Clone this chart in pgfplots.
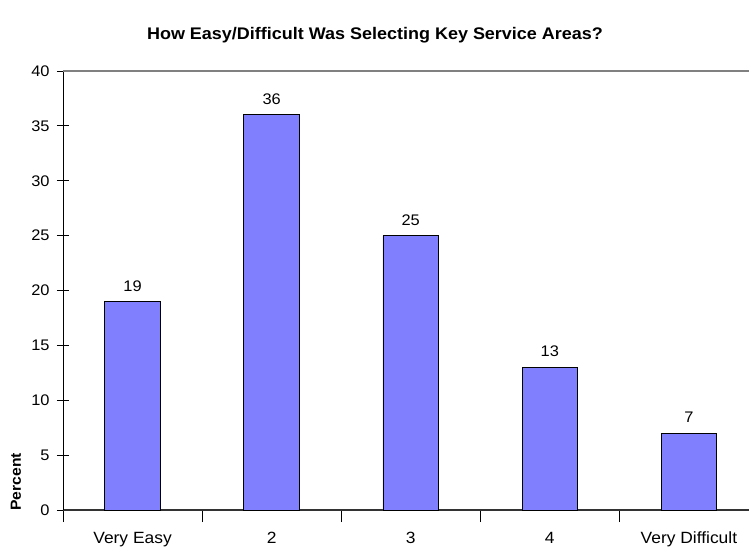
\documentclass[border=0pt]{standalone}
\usepackage{pgfplots}
\pgfplotsset{compat=1.18}
\usepackage{fontspec}
\setmainfont{Liberation Sans}[FakeStretch=1.07]
\definecolor{barblue}{RGB}{128,128,255}
\begin{document}
\begin{tikzpicture}[x=1pt,y=1pt]
\begin{axis}[
  at={(0,0)}, anchor=south west,
  scale only axis,
  width=514.5pt, height=329.25pt,
  xmin=-0.5, xmax=4.432,
  ymin=0, ymax=40,
  ytick={0,5,...,40},
  xtick={0,1,2,3,4},
  xticklabels={Very Easy,2,3,4,Very Difficult},
  minor xtick={-0.5,0.5,1.5,2.5,3.5},
  major x tick style={draw=none},
  tick align=center,
  major tick length=9pt,
  minor tick length=9pt,
  axis x line*=bottom,
  axis y line*=left,
  axis line style={-},
  x axis line style={line width=1.1pt, draw=black!80},
  every tick/.style={black, line width=0.6pt},
  extra y ticks={40},
  extra y tick labels={},
  extra y tick style={grid=major, major grid style={draw=gray, line width=1pt}, major tick length=0pt},
  yticklabel style={font=\fontsize{11.5}{13}\selectfont, xshift=-2pt},
  xticklabel style={font=\fontsize{12.2}{14}\selectfont, yshift=-4pt},
  /pgf/number format/assume math mode=true,
  ybar, bar width=0.4,
  nodes near coords,
  every node near coord/.append style={font=\fontsize{11.5}{13}\selectfont, yshift=4pt},
  title={How Easy/Difficult Was Selecting Key Service Areas?},
  title style={font=\bfseries\fontsize{12.6}{15}\selectfont, at={(axis description cs:0.4548,1.0866)}, anchor=center, yshift=-8pt},
  ylabel={Percent},
  ylabel style={font=\bfseries\fontsize{11}{13}\selectfont, at={(axis description cs:-0.0685,0.064)}, anchor=center, rotate=0},
  clip=false,
]
\addplot[fill=barblue, draw=black, line width=0.6pt] coordinates {(0,19) (1,36) (2,25) (3,13) (4,7)};
\end{axis}
\pgfresetboundingbox
\path (-47.25pt,-27pt) rectangle (514.5pt,382.5pt);
\end{tikzpicture}
\end{document}
